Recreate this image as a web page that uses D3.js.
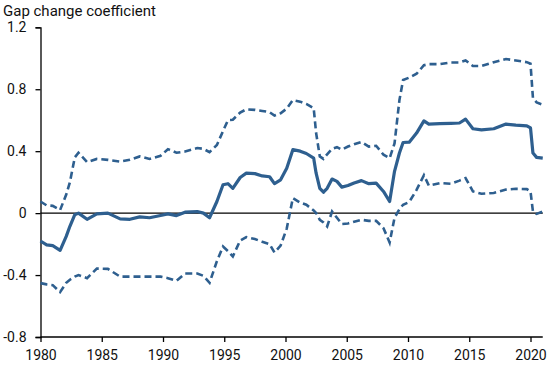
<!DOCTYPE html>
<html><head><meta charset="utf-8">
<script src="https://cdn.jsdelivr.net/npm/d3@7"></script>
<style>body{margin:0;background:#fff}svg{display:block}text{font-family:Roboto,"Noto Sans",sans-serif}</style>
</head><body>
<svg id="c" width="550" height="365"></svg>
<script>
const years = [1980,1980.5,1981,1981.6,1982.1,1982.4,1982.8,1983.1,1983.8,1984.6,1985.5,1986.5,1987.3,1988.1,1988.9,1989.8,1990.4,1991.1,1991.8,1992.8,1993.3,1993.8,1994.4,1994.9,1995.3,1995.7,1996.3,1996.8,1997.5,1998.1,1998.7,1999.1,1999.6,2000.1,2000.6,2001.2,2001.7,2002.3,2002.5,2002.8,2003.1,2003.4,2003.8,2004.2,2004.6,2005.1,2005.6,2006.2,2006.8,2007.4,2008.0,2008.5,2008.9,2009.3,2009.6,2010.1,2010.7,2011.3,2011.7,2012.6,2013.5,2014.2,2014.7,2015.3,2016.0,2017.0,2018.0,2018.8,2019.7,2020.0,2020.2,2020.5,2021.0];
const estimate = [-0.18,-0.205,-0.21,-0.24,-0.15,-0.085,-0.01,0.0,-0.04,-0.005,0.0,-0.037,-0.04,-0.024,-0.03,-0.015,-0.005,-0.016,0.006,0.01,0.0,-0.03,0.075,0.183,0.19,0.16,0.23,0.258,0.255,0.24,0.235,0.19,0.215,0.29,0.41,0.40,0.385,0.355,0.258,0.16,0.135,0.16,0.22,0.205,0.168,0.178,0.195,0.21,0.19,0.194,0.14,0.075,0.27,0.388,0.456,0.458,0.517,0.596,0.575,0.578,0.58,0.582,0.607,0.545,0.538,0.545,0.575,0.568,0.564,0.55,0.388,0.36,0.355];
const upper = [0.075,0.05,0.047,0.02,0.12,0.2,0.36,0.39,0.33,0.35,0.344,0.333,0.344,0.366,0.35,0.37,0.413,0.39,0.398,0.42,0.415,0.394,0.44,0.53,0.60,0.603,0.65,0.67,0.667,0.66,0.652,0.63,0.645,0.675,0.73,0.72,0.705,0.678,0.517,0.366,0.35,0.38,0.415,0.426,0.41,0.43,0.445,0.46,0.43,0.435,0.377,0.355,0.45,0.73,0.86,0.875,0.9,0.955,0.962,0.962,0.973,0.973,0.986,0.95,0.95,0.975,0.995,0.986,0.975,0.965,0.743,0.715,0.70];
const lower = [-0.452,-0.46,-0.465,-0.51,-0.45,-0.43,-0.41,-0.40,-0.42,-0.358,-0.36,-0.41,-0.41,-0.41,-0.41,-0.41,-0.42,-0.437,-0.39,-0.39,-0.405,-0.45,-0.31,-0.216,-0.245,-0.28,-0.177,-0.155,-0.167,-0.185,-0.2,-0.254,-0.21,-0.1,0.097,0.068,0.054,0.017,0.0,-0.043,-0.06,-0.086,0.01,-0.03,-0.07,-0.067,-0.055,-0.043,-0.05,-0.05,-0.097,-0.19,-0.03,0.025,0.054,0.072,0.15,0.245,0.178,0.194,0.19,0.21,0.226,0.14,0.125,0.13,0.152,0.157,0.155,0.14,0.01,-0.005,0.01];
const yTicks = [-0.8,-0.4,0,0.4,0.8,1.2];
const xTicks = [1980,1985,1990,1995,2000,2005,2010,2015,2020];
const yTitle = "Gap change coefficient";

const svg = d3.select("#c");
const color = "#2e5f8f";
const x = d3.scaleLinear().domain([1980,2021]).range([40.5,542.75]);
const y = d3.scaleLinear().domain([-0.8,1.2]).range([337,27.3]);
const fmtY = d => d === 0 ? "0" : (d < 0 ? "-" : "") + Math.abs(d).toFixed(1);

const yAxis = svg.append("g").attr("transform","translate(40.5,0)")
  .call(d3.axisLeft(y).tickValues(yTicks).tickSize(5).tickPadding(9).tickFormat(fmtY));
const xAxis = svg.append("g").attr("transform","translate(0,337)")
  .call(d3.axisBottom(x).tickValues(xTicks).tickSize(5).tickPadding(8).tickFormat(d3.format("d")));
[yAxis,xAxis].forEach(g=>{
  g.select(".domain").attr("stroke","#000").attr("stroke-width",1.3);
  g.selectAll(".tick line").attr("stroke","#000").attr("stroke-width",1.3);
  g.selectAll("text").attr("fill","#111").style("font-size","14px").style("font-family","Roboto, sans-serif");
});
xAxis.select(".domain").attr("d","M40.5,0H542.75");

svg.append("line").attr("x1",x(1980)).attr("x2",x(2021)).attr("y1",y(0)).attr("y2",y(0))
  .attr("stroke","#000").attr("stroke-width",1.3);

const line = vals => d3.line().x((d,i)=>x(years[i])).y(d=>y(d))(vals);
svg.append("path").attr("d",line(upper)).attr("fill","none").attr("stroke",color).attr("stroke-width",2.6).attr("stroke-dasharray","7,4");
svg.append("path").attr("d",line(lower)).attr("fill","none").attr("stroke",color).attr("stroke-width",2.6).attr("stroke-dasharray","7,4");
svg.append("path").attr("d",line(estimate)).attr("fill","none").attr("stroke",color).attr("stroke-width",3.2).attr("stroke-linejoin","round");

svg.append("text").attr("x",3).attr("y",15.5).text(yTitle).style("font-size","15px").attr("fill","#111");
</script>
</body></html>
